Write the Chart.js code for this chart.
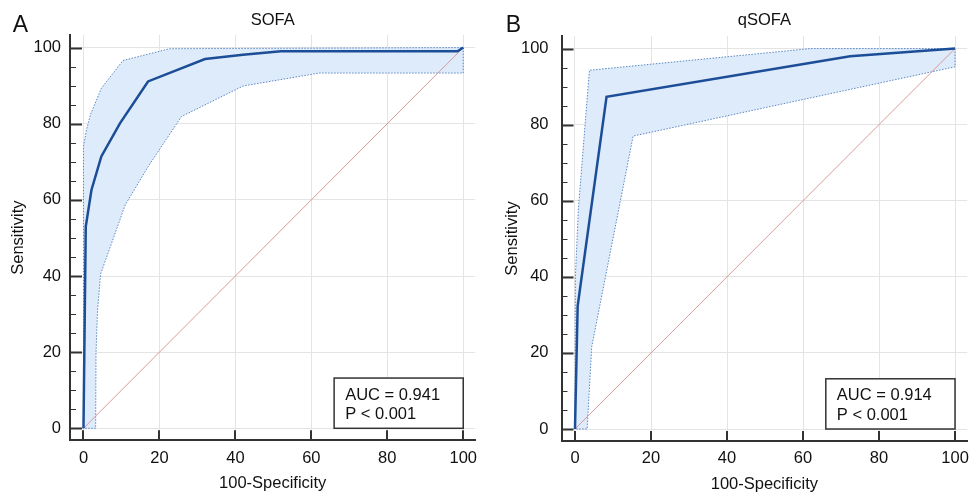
<!DOCTYPE html>
<html>
<head>
<meta charset="utf-8">
<script src="https://cdn.jsdelivr.net/npm/chart.js@4.4.1/dist/chart.umd.min.js"></script>
<style>
  body { margin: 0; background: #fff; }
  #wrap { position: relative; width: 969px; height: 494px; }
  canvas { position: absolute; top: 0; }
</style>
</head>
<body>
<div id="wrap">
  <canvas id="chartA" width="484" height="494" style="left:0"></canvas>
  <canvas id="chartB" width="484" height="494" style="left:485px"></canvas>
</div>
<script>
// axis ticks
const majorTicks = [0, 20, 40, 60, 80, 100];
const minorTicks = [0, 5, 10, 15, 20, 25, 30, 35, 40, 45, 50, 55, 60, 65, 70, 75, 80, 85, 90, 95, 100];

// reference line
const diagX = [0, 100];
const diagY = [0, 100];

// SOFA roc curve + 95% CI
const sofaRocX = [0, 0.6, 2.1, 4.7, 9.6, 17, 32, 42, 52, 98.5, 100];
const sofaRocY = [0, 53, 62.6, 71.4, 80.1, 91.1, 97, 98.1, 99, 99, 100];
const sofaUpperX = [0, 0, 0.8, 1.8, 4.7, 10.4, 22.7, 100];
const sofaUpperY = [0, 74, 78.4, 82.3, 89.3, 96.6, 99.7, 100];
const sofaLowerX = [3.2, 3.3, 3.7, 4.5, 7, 11, 17, 25.8, 42, 62, 100];
const sofaLowerY = [0, 19.7, 31, 40.5, 47.5, 58.7, 68.7, 81.9, 89.9, 93.3, 93.3];

// qSOFA roc curve + 95% CI
const qsofaRocX = [0, 0.7, 8.3, 72.4, 100];
const qsofaRocY = [0, 32.3, 87.3, 98, 100];
const qsofaUpperX = [0, 0.1, 0.9, 3.8, 62, 100];
const qsofaUpperY = [0, 40, 58, 94.3, 100, 100];
const qsofaLowerX = [3.2, 4.4, 15.3, 100];
const qsofaLowerY = [0, 21.6, 77, 95.2];

const FONT = '"Liberation Sans", Arial, sans-serif';
Chart.defaults.font.family = FONT;
Chart.defaults.font.size = 16.5;
Chart.defaults.color = '#111';

const pts = (xs, ys) => xs.map((x, i) => ({ x, y: ys[i] }));

function band(ux, uy, lx, ly) {
    const up = pts(ux, uy);
    const lo = pts(lx, ly).reverse();
    return up.concat(lo, [up[0]]);
}

// inward ticks, AUC box, panel letter
const extras = {
    id: 'extras',
    afterDatasetsDraw(chart, args, o) {
        const { ctx, chartArea, scales: { x, y } } = chart;
        ctx.save();
        ctx.strokeStyle = '#333';
        minorTicks.forEach(v => {
            const major = v % 20 === 0;
            const py = Math.round(y.getPixelForValue(v)) + 0.5;
            ctx.lineWidth = major ? 2 : 1;
            ctx.beginPath();
            ctx.moveTo(chartArea.left, py);
            ctx.lineTo(chartArea.left + (major ? 12 : 6), py);
            ctx.stroke();
        });
        ctx.lineWidth = 2;
        majorTicks.forEach(v => {
            const px = Math.round(x.getPixelForValue(v));
            ctx.beginPath();
            ctx.moveTo(px, chartArea.bottom);
            ctx.lineTo(px, chartArea.bottom - 10);
            ctx.stroke();
        });

        const l = x.getPixelForValue(o.boxFrom), r = x.getPixelForValue(100);
        const t = y.getPixelForValue(o.boxTop), b = y.getPixelForValue(0);
        ctx.fillStyle = '#fff';
        ctx.fillRect(l, t, r - l, b - t);
        ctx.lineWidth = 1.5;
        ctx.strokeRect(l, t, r - l, b - t);
        ctx.fillStyle = '#111';
        ctx.font = '16.5px ' + FONT;
        ctx.textBaseline = 'alphabetic';
        ctx.textAlign = 'left';
        ctx.fillText(o.auc, l + 11, t + 21.6);
        ctx.fillText('P < 0.001', l + 11, t + 41.3);

        ctx.font = '23px ' + FONT;
        ctx.fillText(o.letter, o.letterX, 31.7);
        ctx.restore();
    }
};

function makeChart(id, c) {
    return new Chart(document.getElementById(id), {
        type: 'scatter',
        data: {
            datasets: [
                { data: pts(c.rocX, c.rocY), showLine: true, borderColor: '#1b4e97', borderWidth: 2.5, pointRadius: 0, fill: false },
                { data: pts(diagX, diagY), showLine: true, borderColor: '#d99a9a', borderWidth: 1, pointRadius: 0, fill: false },
                { data: band(c.upX, c.upY, c.loX, c.loY), showLine: true, borderColor: '#5a87c5', borderWidth: 1,
                  borderDash: [1.5, 1.5], pointRadius: 0, fill: 'shape', backgroundColor: '#deebfa' }
            ]
        },
        options: {
            responsive: false,
            animation: false,
            layout: { padding: { left: 0, right: c.padRight, top: 0, bottom: 0 } },
            plugins: {
                legend: { display: false },
                tooltip: { enabled: false },
                title: { display: true, text: c.title, fullSize: false, font: { size: 16.5, weight: 'normal' },
                         color: '#111', padding: { top: 11, bottom: c.titleBottom } },
                extras: { auc: c.auc, letter: c.letter, letterX: c.letterX, boxFrom: 66, boxTop: 13.2 }
            },
            scales: {
                x: {
                    type: 'linear', min: -3.55, max: 103.2,
                    afterBuildTicks: s => { s.ticks = majorTicks.map(v => ({ value: v })); },
                    afterFit: s => { s.height = c.xHeight; s.paddingLeft = 0; s.paddingRight = 0; },
                    grid: { color: '#e4e4e4', drawTicks: false },
                    border: { color: '#333', width: 2 },
                    ticks: { padding: 8, color: '#111' },
                    title: { display: true, text: '100-Specificity', color: '#111', padding: { top: 0, bottom: c.xTitlePad } }
                },
                y: {
                    type: 'linear', min: -3.15, max: 103.3,
                    afterBuildTicks: s => { s.ticks = majorTicks.map(v => ({ value: v })); },
                    afterFit: s => { s.width = c.yWidth; s.paddingTop = 0; s.paddingBottom = 0; },
                    grid: { color: '#e4e4e4', drawTicks: false },
                    border: { color: '#333', width: 2 },
                    ticks: { padding: c.yPad, color: '#111' },
                    title: { display: true, text: 'Sensitivity', color: '#111', padding: { top: c.yTitlePad, bottom: 0 } }
                }
            }
        },
        plugins: [extras]
    });
}

makeChart('chartA', {
    title: 'SOFA', letter: 'A', letterX: 12.7, auc: 'AUC = 0.941',
    rocX: sofaRocX, rocY: sofaRocY, upX: sofaUpperX, upY: sofaUpperY, loX: sofaLowerX, loY: sofaLowerY,
    padRight: 8.6, titleBottom: 4.2, xHeight: 53.7, yWidth: 70, yPad: 9, yTitlePad: 8.9, xTitlePad: 1.1
});

makeChart('chartB', {
    title: 'qSOFA', letter: 'B', letterX: 20.7, auc: 'AUC = 0.914',
    rocX: qsofaRocX, rocY: qsofaRocY, upX: qsofaUpperX, upY: qsofaUpperY, loX: qsofaLowerX, loY: qsofaLowerY,
    padRight: 1.8, titleBottom: 5.2, xHeight: 53, yWidth: 76.5, yPad: 13, yTitlePad: 17.1, xTitlePad: 0.1
});
</script>
</body>
</html>
